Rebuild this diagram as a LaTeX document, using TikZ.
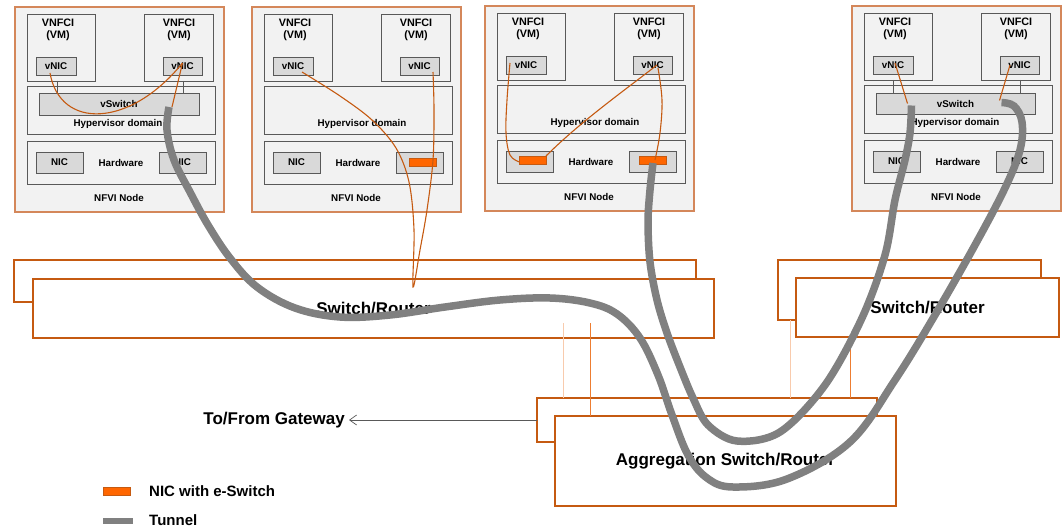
\documentclass[tikz,border=0pt]{standalone}
\usepackage{fontspec}
\setmainfont{Liberation Sans}
\usetikzlibrary{arrows.meta}

\definecolor{nodeedge}{HTML}{D4875A}
\definecolor{nodefill}{HTML}{F2F2F2}
\definecolor{boxedge}{HTML}{595959}
\definecolor{nicfill}{HTML}{D9D9D9}
\definecolor{rust}{HTML}{C55A11}
\definecolor{eswitch}{HTML}{FF6600}
\definecolor{tunnelgray}{HTML}{808080}
\definecolor{paleorange}{HTML}{F8CBAD}
\definecolor{linkorange}{HTML}{ED7D31}

\newcommand\nfvsmall{\fontsize{9.8}{11}\selectfont\bfseries}
\newcommand\nfvvm{\fontsize{10.8}{12.5}\selectfont\bfseries}
\newcommand\nfvbig{\fontsize{17}{19}\selectfont\bfseries}
\newcommand\nfvlegend{\fontsize{15}{18}\selectfont\bfseries}

\tikzset{
  nfviouter/.style={draw=nodeedge, fill=nodefill, line width=1.1pt},
  layer/.style={draw=boxedge, fill=nodefill, line width=0.9pt, font=\nfvsmall},
  port/.style={draw=boxedge, fill=nicfill, line width=0.9pt, font=\nfvsmall},
  esw/.style={draw=rust, fill=eswitch, line width=0.8pt},
  swbox/.style={draw=rust, fill=white, line width=1.4pt, font=\nfvbig},
  lbl/.style={inner sep=0pt, font=\nfvsmall},
  vmlbl/.style={inner sep=0pt, align=center, font=\nfvvm},
  link/.style={draw=rust, line width=1.1pt},
  uplink/.style={line width=0.9pt},
  tunnel/.style={draw=tunnelgray, line width=7.5pt},
  stub/.style={draw=boxedge, line width=0.6pt},
  gwarrow/.style={draw=boxedge, line width=0.7pt, -{Straight Barb[length=7pt,width=10pt]}},
  legendtext/.style={inner sep=0pt, anchor=west, font=\nfvlegend},
}

% rectangle node given by its top-left and bottom-right corners
\newcommand\rectnode[7]{%
  \node[#1, anchor=north west, inner sep=0pt, outer sep=0pt,
        minimum width={(#5-#3)*1pt}, minimum height={(#6-#4)*1pt}] (#2) at (#3,#4) {#7};}

% one NFVI node: name, x, y, x of the hypervisor caption
\newcommand\nfvinode[4]{%
  \begin{scope}[shift={(#2,#3)}]
    \rectnode{nfviouter}{#1}{0}{0}{209}{205}{}
    \rectnode{layer}{#1-vmA}{12}{7}{80}{74}{}
    \rectnode{layer}{#1-vmB}{129}{7}{198}{74}{}
    \node[vmlbl] (#1-vmAt) at (43,23) {VNFCI\\(VM)};
    \node[vmlbl] (#1-vmBt) at (164,23) {VNFCI\\(VM)};
    \rectnode{port}{#1-vnicA}{21}{50}{61}{68}{vNIC}
    \rectnode{port}{#1-vnicB}{148}{50}{187}{68}{vNIC}
    \rectnode{layer}{#1-hyp}{12}{79}{200}{127}{}
    \node[lbl] (#1-hypt) at (#4,117) {Hypervisor domain};
    \rectnode{layer}{#1-hw}{12}{134}{200}{177}{Hardware}
    \rectnode{port}{#1-nicA}{21}{145}{68}{166}{NIC}
    \rectnode{port}{#1-nicB}{144}{145}{191}{166}{NIC}
    \node[lbl] (#1-t) at (104,191) {NFVI Node};
  \end{scope}}

\begin{document}
\begin{tikzpicture}[x=1pt,y=-1pt]
\useasboundingbox (0,0) rectangle (1063,527);

% ---- NFVI nodes ----
\nfvinode{n1}{15}{7}{103}
\nfvinode{n2}{252}{7}{110}
\nfvinode{n3}{485}{6}{110}
\nfvinode{n4}{852}{6}{103}

\rectnode{port}{n1-vsw}{39}{93}{199}{115}{vSwitch}
\rectnode{port}{n4-vsw}{876}{93}{1035}{114}{vSwitch}

\rectnode{esw}{n2-es}{409}{158}{436}{166}{}
\rectnode{esw}{n3-esA}{519}{156}{546}{164}{}
\rectnode{esw}{n3-esB}{639}{156}{666}{164}{}

% VM to vSwitch attachments
\foreach \n/\a/\b in {n1/-4/4.5, n4/-5/4.5}{
  \draw[stub] ([shift={(\a,0)}]\n-vmA.south) -- ([shift={(\a,0)}]\n-vmA.south |- \n-vsw.north);
  \draw[stub] ([shift={(\b,0)}]\n-vmB.south) -- ([shift={(\b,0)}]\n-vmB.south |- \n-vsw.north);
}

% ---- switches ----
\rectnode{swbox}{sw1b}{14}{260}{696}{302}{}
\rectnode{swbox}{sw1}{33}{279}{714}{338}{Switch/Router}
\rectnode{swbox}{sw2b}{778}{260}{1041}{320}{}
\rectnode{swbox}{sw2}{796}{278}{1059}{337}{Switch/Router}
\rectnode{swbox}{aggb}{537}{398}{877}{442}{}

% uplinks towards the aggregation layer
\draw[uplink, paleorange] ([shift={(530,-15)}]sw1.south west) -- ([shift={(26,0)}]aggb.north west);
\draw[uplink, paleorange] ([shift={(12,0)}]sw2b.south west) -- ([shift={(253,0)}]aggb.north west);
\draw[uplink, linkorange] ([shift={(54,0)}]sw2.south west) -- ([shift={(313,0)}]aggb.north west);

\rectnode{swbox}{agg}{555}{416}{896}{506}{Aggregation Switch/Router}
\draw[uplink, linkorange] ([shift={(557,-15)}]sw1.south west) -- ([shift={(35,0)}]agg.north west);

% gateway
\node[inner sep=0pt, anchor=east, font=\nfvbig] (gw) at (345,420) {To/From Gateway};
\draw[gwarrow] (aggb.west) -- ([xshift=4pt]aggb.west -| gw.east);

% ---- traffic paths (orange) ----
\coordinate (n1-pa) at ([shift={(-6,7)}]n1-vnicA.center);
\coordinate (n1-pb) at ([shift={(0,-3)}]n1-vnicB.center);
\coordinate (n1-pc) at ([shift={(53,3)}]n1-vsw.center);
\draw[link] (n1-pa) .. controls (60,130) and (130,128) .. (n1-pb);
\draw[link] (n1-pb) -- (n1-pc);

\coordinate (n2-pa) at ([shift={(9,6)}]n2-vnicA.center);
\coordinate (n2-pb) at ([shift={(13.5,6)}]n2-vnicB.center);
\draw[link] plot[smooth, tension=0.55] coordinates {(n2-pa) (340,96) (372,120) (396,148) (409,182) (414,230) (413,287) (420,250) (427,210) (433,160) (434,110) (n2-pb)};

\coordinate (n3-pa) at ([shift={(-16,-2)}]n3-vnicA.center);
\coordinate (n3-pb) at ([shift={(4.5,0)}]n3-vnicB.center);
\coordinate (n3-pc) at ([shift={(5.5,3)}]n3-vnicB.center);
\coordinate (n3-qa) at ([shift={(-13,2)}]n3-esA.center);
\coordinate (n3-qb) at (n3-esA.north east);
\coordinate (n3-qc) at ([shift={(2.5,0)}]n3-esB.center);
\draw[link] plot[smooth, tension=0.6] coordinates {(n3-pa) (507,100) (506,133) (510,155) (n3-qa)};
\draw[link] (n3-pb) .. controls (625,90) and (580,122) .. (n3-qb);
\draw[link] plot[smooth, tension=0.6] coordinates {(n3-pc) (662,100) (660,133) (n3-qc)};

\draw[link] ([shift={(2,-2)}]n4-vnicA.center) -- ([shift={(-48,0)}]n4-vsw.center);
\draw[link] ([shift={(-9.5,0)}]n4-vnicB.center) -- ([shift={(44,-3)}]n4-vsw.center);

% ---- tunnels ----
\coordinate (tA0) at ([shift={(50,3)}]n1-vsw.center);
\coordinate (tA1) at ([shift={(46,-1)}]n4-vsw.center);
\coordinate (tB0) at ([shift={(0.5,3)}]n3-esB.center);
\coordinate (tB1) at ([shift={(-44,2)}]n4-vsw.center);

\draw[tunnel] plot[smooth, tension=0.6] coordinates {(tA0) (167,130) (174,160) (190,192) (208,225) (230,258) (257,287) (295,308) (340,317) (390,315) (445,307) (500,300) (550,298) (590,303) (617,314) (640,338) (658,375) (672,415) (688,455) (707,478) (733,487) (787,479) (850,442) (895,380) (935,315) (975,245) (1005,188) (1020,150) (1022,122) (1014,106) (tA1)};
\draw[tunnel] plot[smooth, tension=0.55] coordinates {(tB0) (650,190) (648,222) (650,262) (657,300) (667,333) (680,367) (693,398) (708,425) (737,441) (780,432) (825,385) (862,318) (885,255) (895,200) (905,160) (910,133) (tB1)};

% ---- legend ----
\rectnode{esw}{lg-es}{103}{487}{130}{495}{}
\node[legendtext] (lg-est) at (149,491) {NIC with e-Switch};
\rectnode{fill=tunnelgray}{lg-tun}{103}{518}{133}{524}{}
\node[legendtext] (lg-tunt) at (149,520) {Tunnel};
\end{tikzpicture}
\end{document}
